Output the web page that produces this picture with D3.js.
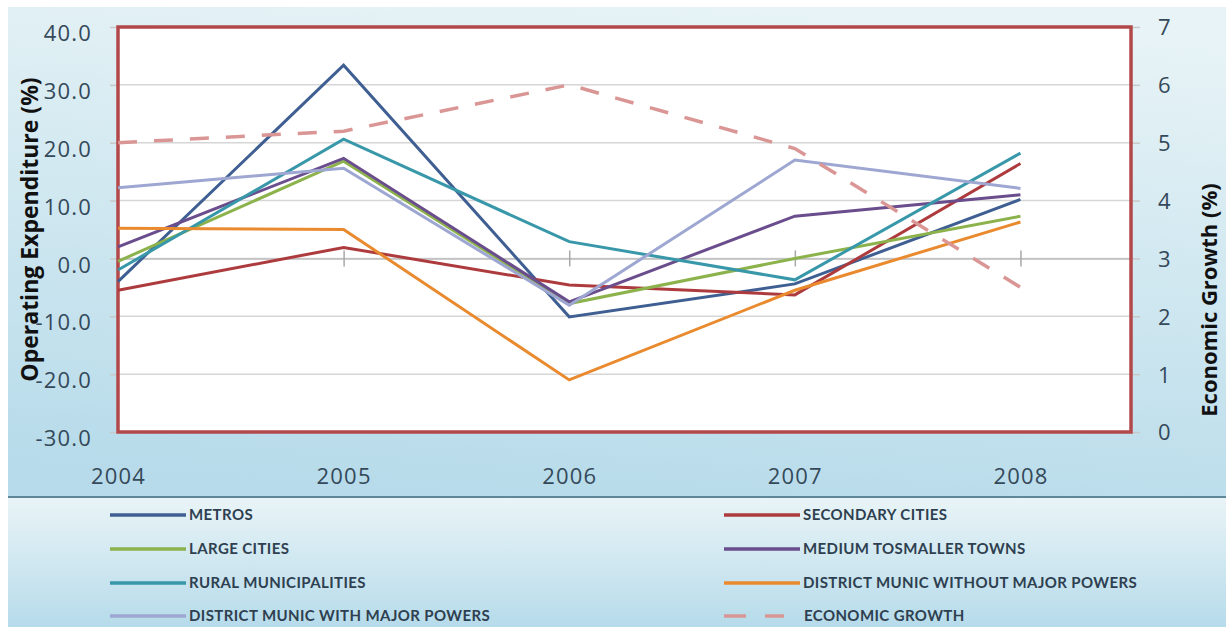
<!DOCTYPE html>
<html>
<head>
<meta charset="utf-8">
<script src="https://cdn.jsdelivr.net/npm/d3@7"></script>
<style>
  html, body { margin: 0; padding: 0; background: #ffffff; }
  svg { display: block; }
</style>
</head>
<body>
<svg id="chart" width="1226" height="627"></svg>
<script>
// Years on the category axis
const years = [2004, 2005, 2006, 2007, 2008];

// Operating expenditure growth (%) by municipal category
const metros          = [-4.0, 33.4, -10.1, -4.4, 10.2];
const secondaryCities = [-5.5, 1.9, -4.6, -6.3, 16.4];
const largeCities     = [-0.5, 16.8, -7.8, 0.0, 7.3];
const mediumTowns     = [2.0, 17.3, -7.5, 7.3, 11.0];
const ruralMunic      = [-2.0, 20.6, 2.9, -3.7, 18.2];
const districtWithout = [5.2, 5.0, -21.0, -5.5, 6.3];
const districtWith    = [12.2, 15.6, -8.1, 17.0, 12.1];

// Economic growth (%) on the secondary axis
const economicGrowth  = [5.0, 5.2, 6.0, 4.9, 2.5];

// Axis ticks
const leftTicks  = [40, 30, 20, 10, 0, -10, -20, -30];
const rightTicks = [0, 1, 2, 3, 4, 5, 6, 7];

const seriesNames = [
  "METROS", "SECONDARY CITIES", "LARGE CITIES", "MEDIUM TOSMALLER TOWNS",
  "RURAL MUNICIPALITIES", "DISTRICT MUNIC WITHOUT MAJOR POWERS",
  "DISTRICT MUNIC WITH MAJOR POWERS", "ECONOMIC GROWTH"
];
const seriesColors = [
  "#3f5f93", "#ad3b3d", "#8cb24c", "#6a4d8c",
  "#3898aa", "#ea8a2f", "#9da7d2", "#d99694"
];

const series = [
  { name: seriesNames[0], values: metros,          color: seriesColors[0], axis: "left" },
  { name: seriesNames[1], values: secondaryCities, color: seriesColors[1], axis: "left" },
  { name: seriesNames[2], values: largeCities,     color: seriesColors[2], axis: "left" },
  { name: seriesNames[3], values: mediumTowns,     color: seriesColors[3], axis: "left" },
  { name: seriesNames[4], values: ruralMunic,      color: seriesColors[4], axis: "left" },
  { name: seriesNames[5], values: districtWithout, color: seriesColors[5], axis: "left" },
  { name: seriesNames[6], values: districtWith,    color: seriesColors[6], axis: "left" },
  { name: seriesNames[7], values: economicGrowth,  color: seriesColors[7], axis: "right", dashed: true }
];

const svg = d3.select("#chart");
const W = 1226, H = 627;

// Plot frame
const plot = { left: 118, right: 1131, top: 27, bottom: 432 };

// Background gradients
const defs = svg.append("defs");
const bgGrad = defs.append("linearGradient").attr("id", "bgGrad")
  .attr("x1", "0.6").attr("y1", "0").attr("x2", "0.4").attr("y2", "1");
bgGrad.append("stop").attr("offset", "0").attr("stop-color", "#e7f3f6");
bgGrad.append("stop").attr("offset", "1").attr("stop-color", "#b7dbea");

const legGrad = defs.append("linearGradient").attr("id", "legGrad")
  .attr("x1", "0").attr("y1", "0").attr("x2", "0").attr("y2", "1");
legGrad.append("stop").attr("offset", "0").attr("stop-color", "#e9f4f7");
legGrad.append("stop").attr("offset", "1").attr("stop-color", "#b6dbea");

svg.append("rect").attr("x", 0).attr("y", 0).attr("width", W).attr("height", H).attr("fill", "#ffffff");
svg.append("rect").attr("x", 8).attr("y", 7).attr("width", W - 8).attr("height", 490).attr("fill", "url(#bgGrad)");
svg.append("rect").attr("x", 8).attr("y", 497).attr("width", W - 8).attr("height", H - 497).attr("fill", "url(#legGrad)");
svg.append("line").attr("x1", 8).attr("x2", W).attr("y1", 497).attr("y2", 497)
  .attr("stroke", "#5f8898").attr("stroke-width", 2);

// Scales
const x = d3.scaleLinear().domain([2004, 2008.49]).range([plot.left, plot.right]);
const yL = d3.scaleLinear().domain([-30, 40]).range([plot.bottom, plot.top]);
const yR = d3.scaleLinear().domain([0, 7]).range([plot.bottom, plot.top]);

// Plot background
svg.append("rect")
  .attr("x", plot.left).attr("y", plot.top)
  .attr("width", plot.right - plot.left).attr("height", plot.bottom - plot.top)
  .attr("fill", "#ffffff");

// Gridlines
svg.append("g").selectAll("line").data(leftTicks.filter(d => d !== 40 && d !== -30))
  .join("line")
  .attr("x1", plot.left).attr("x2", plot.right)
  .attr("y1", d => yL(d)).attr("y2", d => yL(d))
  .attr("stroke", "#d6d6d6").attr("stroke-width", 1.5);

// Category axis crossing at zero
const xAxis = d3.axisBottom(x).tickValues(years.slice(1)).tickSize(7).tickFormat("");
const xAxisG = svg.append("g").attr("transform", `translate(0,${yL(0)})`).call(xAxis);
xAxisG.select(".domain").attr("stroke", "#bdbdbd").attr("stroke-width", 1.5);
xAxisG.selectAll(".tick line").attr("stroke", "#a8a8a8").attr("stroke-width", 1.5).attr("y1", -8).attr("y2", 8);

// Left value axis (plain hyphen for negatives)
const oneDecimal = d => (d < 0 ? "-" : "") + Math.abs(d).toFixed(1);
const leftAxis = d3.axisLeft(yL).tickValues(leftTicks).tickSize(8).tickPadding(18)
  .tickFormat(oneDecimal);
const leftG = svg.append("g").attr("transform", `translate(${plot.left},0)`).call(leftAxis);
leftG.select(".domain").remove();
leftG.selectAll(".tick line").attr("stroke", "#c8c8c8").attr("stroke-width", 1.5);
leftG.selectAll(".tick text")
  .attr("font-family", "'Open Sans', sans-serif").attr("font-size", 22)
  .attr("letter-spacing", 1.2)
  .attr("fill", "#34495a").attr("dy", "0.62em");

// Right value axis
const rightAxis = d3.axisRight(yR).tickValues(rightTicks).tickSize(9).tickPadding(18)
  .tickFormat(d3.format("d"));
const rightG = svg.append("g").attr("transform", `translate(${plot.right},0)`).call(rightAxis);
rightG.select(".domain").remove();
rightG.selectAll(".tick line").attr("stroke", "#c8c8c8").attr("stroke-width", 1.5);
rightG.selectAll(".tick text")
  .attr("font-family", "'Open Sans', sans-serif").attr("font-size", 22)
  .attr("fill", "#34495a").attr("dy", "0.36em");

// Year labels below the plot
const labelAxis = d3.axisBottom(x).tickValues(years).tickSize(0).tickPadding(36).tickFormat(d3.format("d"));
const labelG = svg.append("g").attr("transform", `translate(0,${plot.bottom})`).call(labelAxis);
labelG.select(".domain").remove();
labelG.selectAll(".tick text")
  .attr("font-family", "'Open Sans', sans-serif").attr("font-size", 22)
  .attr("letter-spacing", 1.2)
  .attr("fill", "#34495a");

// Plot border
svg.append("rect")
  .attr("x", plot.left).attr("y", plot.top)
  .attr("width", plot.right - plot.left).attr("height", plot.bottom - plot.top)
  .attr("fill", "none").attr("stroke", "#b24849").attr("stroke-width", 3.5);

// Series lines
const lineGen = (scale) => d3.line().x((d, i) => x(years[i])).y(d => scale(d));
svg.append("g").selectAll("path").data(series).join("path")
  .attr("d", s => lineGen(s.axis === "left" ? yL : yR)(s.values))
  .attr("fill", "none")
  .attr("stroke", s => s.color)
  .attr("stroke-width", s => s.dashed ? 3.5 : 3)
  .attr("stroke-dasharray", s => s.dashed ? "19,17" : null)
  .attr("stroke-linejoin", "miter");

// Axis titles
svg.append("text")
  .attr("transform", `translate(38,${(plot.top + plot.bottom) / 2}) rotate(-90)`)
  .attr("text-anchor", "middle")
  .attr("font-family", "'Open Sans', sans-serif").attr("font-weight", 700).attr("font-size", 23)
  .attr("fill", "#111111")
  .text("Operating Expenditure (%)");

svg.append("text")
  .attr("transform", `translate(1217,300) rotate(-90)`)
  .attr("text-anchor", "middle")
  .attr("font-family", "'Open Sans', sans-serif").attr("font-weight", 700).attr("font-size", 22)
  .attr("fill", "#111111")
  .text("Economic Growth (%)");

// Legend: two columns, four rows
const legendCols = [110, 724];
const legendRows = [515, 549, 583, 616];
const legend = svg.append("g").selectAll("g").data(series).join("g")
  .attr("transform", (s, i) => `translate(${legendCols[i % 2]},${legendRows[Math.floor(i / 2)]})`);
legend.append("line")
  .attr("x1", 0).attr("x2", s => s.dashed ? 60 : 76)
  .attr("y1", 0).attr("y2", 0)
  .attr("stroke", s => s.color)
  .attr("stroke-width", 3.5)
  .attr("stroke-dasharray", s => s.dashed ? "22,19" : null);
legend.append("text")
  .attr("x", s => s.dashed ? 80 : 79).attr("y", 0).attr("dy", "0.36em")
  .attr("font-family", "Lato, sans-serif").attr("font-weight", 700).attr("font-size", 15)
  .attr("letter-spacing", 0.4)
  .attr("fill", "#2e4050")
  .text(s => s.name);
</script>
</body>
</html>
